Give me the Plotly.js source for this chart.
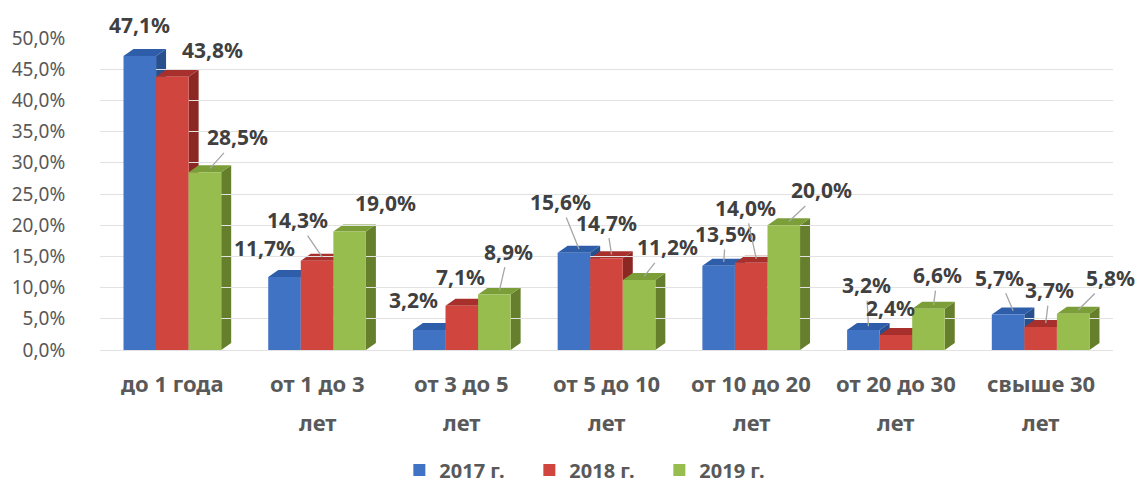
<!DOCTYPE html>
<html>
<head>
<meta charset="utf-8">
<script src="https://cdn.plot.ly/plotly-3.0.1.min.js"></script>
<style>html,body{margin:0;padding:0;background:#fff;}#chart{width:1139px;height:495px;}</style>
</head>
<body>
<div id="chart"></div>
<script>
// ---- data ----
var categories = ['до 1 года', 'от 1 до 3<br>лет', 'от 3 до 5<br>лет', 'от 5 до 10<br>лет', 'от 10 до 20<br>лет', 'от 20 до 30<br>лет', 'свыше 30<br>лет'];
var seriesNames = ['2017 г.', '2018 г.', '2019 г.'];
var values2017 = [47.1, 11.7, 3.2, 15.6, 13.5, 3.2, 5.7];
var values2018 = [43.8, 14.3, 7.1, 14.7, 14.0, 2.4, 3.7];
var values2019 = [28.5, 19.0, 8.9, 11.2, 20.0, 6.6, 5.8];
var yTickVals = [0, 5, 10, 15, 20, 25, 30, 35, 40, 45, 50];
var yTickText = yTickVals.map(function(v){ return v.toFixed(1).replace('.', ',') + '%'; });

// ---- styles ----
var frontColors = ['#4173c4', '#d1453f', '#97bd4f'];
var sideColors  = ['#28508f', '#8c2824', '#657f2c'];
var topColors   = ['#2e5ea9', '#a8302c', '#7b9e38'];
var FONT = 'Noto Sans, Open Sans, sans-serif';
var TXT = '#595959';
var LBL = '#404040';
var barW = 0.225;        // in category units
var depthX = 0.069;      // 3D depth, x units
var depthY = 1.12;       // 3D depth, y units
// label offsets (pixels) [ax, ay, showLine]
var labelOffsets = [
  [[-5,-27,0],[-25,-25,0],[-21,-26,0],[-19,-47,1],[2,-28,1],[-2,-41,1],[-14,-33,1]],
  [[35,-23,0],[-25,-37,1],[-6,-25,0],[-5,-32,1],[-11,-51,1],[-10,-23,0],[4,-33,1]],
  [[28,-31,1],[31,-25,0],[9,-39,1],[23,-29,1],[33,-31,1],[4,-30,1],[32,-32,1]]
];

var allValues = [values2017, values2018, values2019];
var xIdx = categories.map(function(_, i){ return i; });

var traces = allValues.map(function(vals, j){
  return {
    type: 'bar',
    name: seriesNames[j],
    x: xIdx,
    y: vals,
    marker: {color: frontColors[j], line: {width: 0}},
    hoverinfo: 'skip'
  };
});

var shapes = [];
var annotations = [];
allValues.forEach(function(vals, j){
  vals.forEach(function(v, i){
    var xc = i + (j - 1) * barW;
    var x0 = xc - barW/2, x1 = xc + barW/2;
    // side face
    shapes.push({
      type: 'path', xref: 'x', yref: 'y', layer: 'below',
      path: 'M ' + x1 + ',0 L ' + (x1+depthX) + ',' + depthY + ' L ' + (x1+depthX) + ',' + (v+depthY) + ' L ' + x1 + ',' + v + ' Z',
      fillcolor: sideColors[j], line: {width: 0}
    });
    // top face
    shapes.push({
      type: 'path', xref: 'x', yref: 'y', layer: 'below',
      path: 'M ' + x0 + ',' + v + ' L ' + x1 + ',' + v + ' L ' + (x1+depthX) + ',' + (v+depthY) + ' L ' + (x0+depthX) + ',' + (v+depthY) + ' Z',
      fillcolor: topColors[j], line: {width: 0}
    });
    var off = labelOffsets[j][i];
    annotations.push({
      x: xc + 0.035, y: v + 0.6, xref: 'x', yref: 'y',
      text: '<b>' + v.toFixed(1).replace('.', ',') + '%</b>',
      showarrow: true, arrowhead: 0, arrowwidth: 1.3,
      arrowcolor: off[2] ? '#a6a6a6' : 'rgba(0,0,0,0)',
      ax: off[0], ay: off[1],
      font: {family: FONT, size: 21, color: LBL},
      standoff: 0
    });
  });
});

// category labels (two lines)
categories.forEach(function(c, i){
  var parts = c.split('<br>');
  parts.forEach(function(p, k){
    annotations.push({
      x: i, y: k === 0 ? -0.106 : -0.23, xref: 'x', yref: 'paper',
      text: '<b>' + p + '</b>', showarrow: false,
      xanchor: 'center', yanchor: 'middle',
      font: {family: FONT, size: 22, color: TXT}
    });
  });
});

var layout = {
  width: 1139, height: 495,
  margin: {l: 100, r: 26, t: 38, b: 145, autoexpand: false},
  paper_bgcolor: '#ffffff', plot_bgcolor: '#ffffff',
  separators: ', ',
  barmode: 'group', bargap: 0.325, bargroupgap: 0,
  showlegend: true,
  legend: {
    orientation: 'h', x: 0.488, xanchor: 'center', y: -0.385, yanchor: 'middle',
    font: {family: FONT, size: 20, color: TXT, weight: 'bold'},
    traceorder: 'normal', itemwidth: 30,
    entrywidth: 85, entrywidthmode: 'pixels'
  },
  xaxis: {
    range: [-0.5, 6.5], showticklabels: false, showgrid: false, zeroline: false,
    showline: false, ticks: '', fixedrange: true, automargin: false
  },
  yaxis: {
    range: [0, 50], tickmode: 'array', tickvals: yTickVals, ticktext: yTickText,
    tickfont: {family: FONT, size: 19, color: TXT},
    ticks: 'outside', ticklen: 30, tickcolor: 'rgba(0,0,0,0)',
    showgrid: true, gridcolor: '#e2e2e2', gridwidth: 1,
    zeroline: true, zerolinecolor: '#e2e2e2', showline: false, automargin: false
  },
  shapes: shapes,
  annotations: annotations
};

Plotly.newPlot('chart', traces, layout, {displayModeBar: false, staticPlot: true});
</script>
</body>
</html>
